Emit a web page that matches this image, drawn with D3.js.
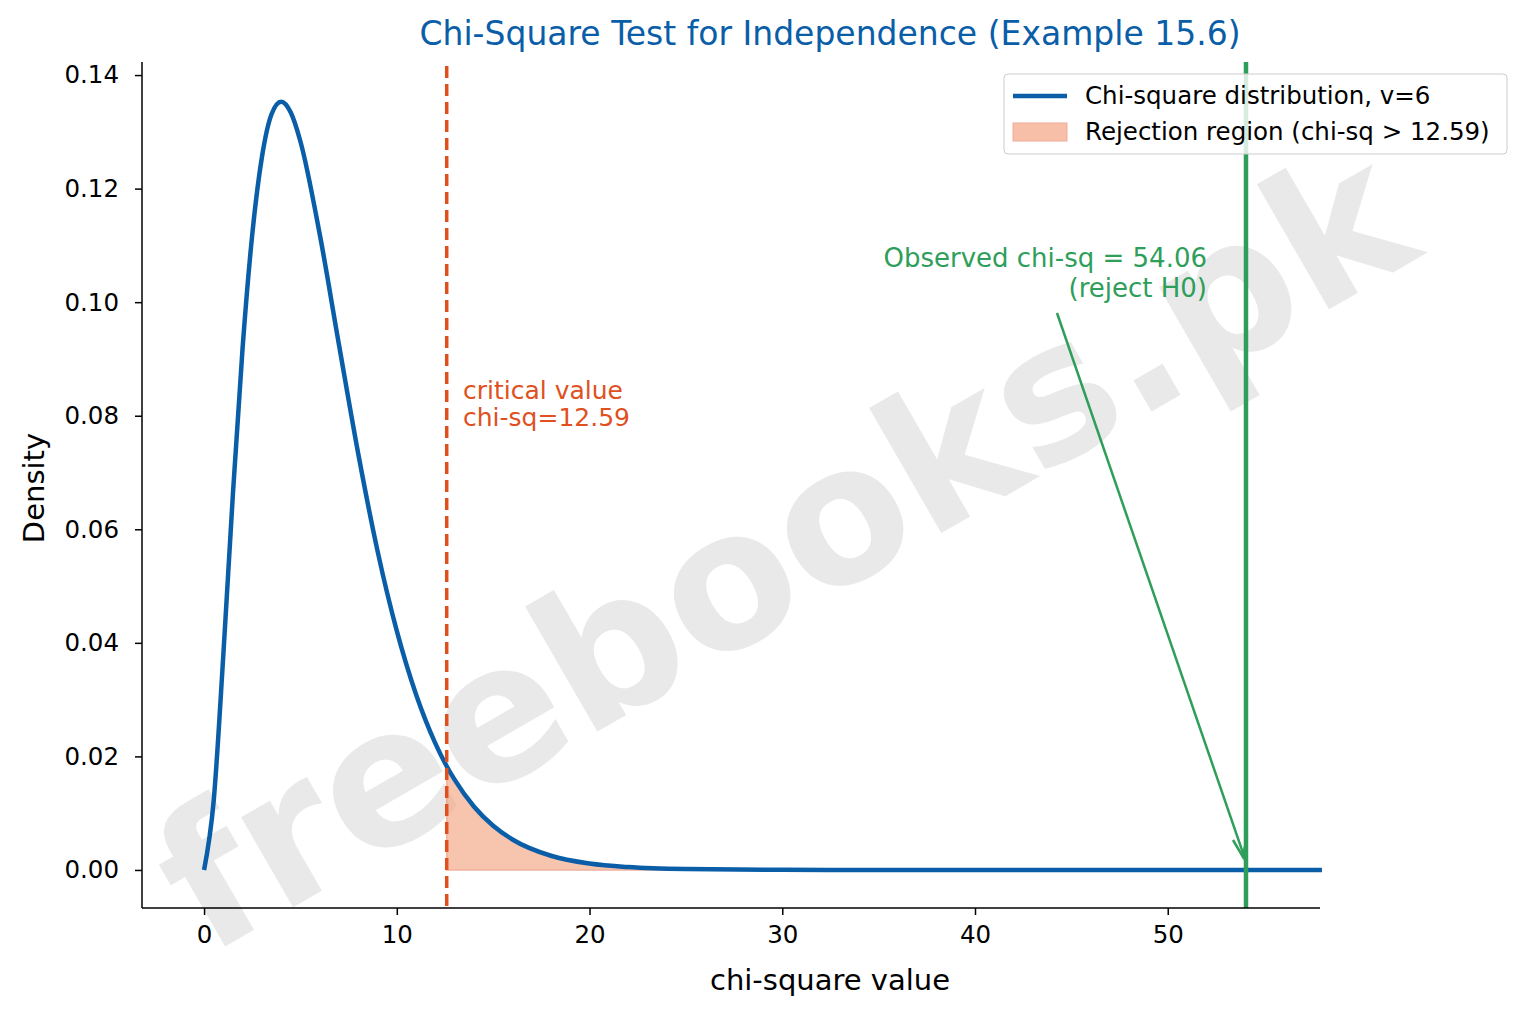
<!DOCTYPE html><html><head><meta charset="utf-8"><script src="https://cdn.jsdelivr.net/npm/d3@7"></script>
<style>body{margin:0;background:#fff}text{font-family:"DejaVu Sans",sans-serif}</style></head><body>
<svg id="c" width="1539" height="1016"></svg>
<script>
const xs=[0,0.5,1,1.5,2,2.5,3,3.5,4,4.5,5,6,7,8,9,10,11,12,12.59,13,14,15,16,18,20,22,25,30,35,40,45,50,55,58];
const ys=[0,0.0122,0.0379,0.0664,0.0920,0.1119,0.1255,0.1331,0.1353,0.1334,0.1283,0.1120,0.0925,0.0733,0.0562,0.0421,0.0309,0.0223,0.01827,0.0159,0.01117,0.00778,0.00537,0.0025,0.00113,0.0005,0.00015,0.00002,0,0,0,0,0,0];
const crit=12.59, obs=54.06;
const xTicks=[0,10,20,30,40,50], yTicks=[0,0.02,0.04,0.06,0.08,0.10,0.12,0.14];
const svg=d3.select("#c");
const x=d3.scaleLinear().domain([-3.22,57.9]).range([142,1320]);
const y=d3.scaleLinear().domain([-0.0067,0.1423]).range([908,62]);
const pts=xs.map((v,i)=>[v,ys[i]]);
svg.append("text").attr("transform","translate(790,560) rotate(-30)").attr("text-anchor","middle").attr("dominant-baseline","middle")
 .attr("font-size",190).attr("font-weight","bold").attr("fill","#e6e6e6").attr("opacity",0.85).text("freebooks.pk");
const tail=pts.filter(p=>p[0]>=crit);
svg.append("path").datum(tail).attr("fill","#f4a582").attr("opacity",0.65).attr("stroke","#e8896a").attr("stroke-width",1.5)
 .attr("d",d3.area().x(d=>x(d[0])).y0(y(0)).y1(d=>y(d[1])).curve(d3.curveMonotoneX));
svg.append("path").datum(pts).attr("fill","none").attr("stroke","#0a5ea8").attr("stroke-width",4.5)
 .attr("d",d3.line().x(d=>x(d[0])).y(d=>y(d[1])).curve(d3.curveMonotoneX));
svg.append("line").attr("x1",x(crit)).attr("x2",x(crit)).attr("y1",66).attr("y2",908).attr("stroke","#e0501e").attr("stroke-width",3.5).attr("stroke-dasharray","12,6");
svg.append("line").attr("x1",x(obs)).attr("x2",x(obs)).attr("y1",62).attr("y2",908).attr("stroke","#2e9e5a").attr("stroke-width",4.5);
svg.append("text").attr("x",463).attr("y",399).attr("font-size",25).attr("fill","#e0501e").text("critical value");
svg.append("text").attr("x",463).attr("y",426).attr("font-size",25).attr("fill","#e0501e").text("chi-sq=12.59");
svg.append("text").attr("x",1207).attr("y",267).attr("text-anchor","end").attr("font-size",26).attr("fill","#2e9e5a").text("Observed chi-sq = 54.06");
svg.append("text").attr("x",1207).attr("y",297).attr("text-anchor","end").attr("font-size",26).attr("fill","#2e9e5a").text("(reject H0)");
svg.append("line").attr("x1",1057).attr("y1",313).attr("x2",x(obs)-2).attr("y2",y(0)-14).attr("stroke","#2e9e5a").attr("stroke-width",2.5);
svg.append("path").attr("d","M1233,840 L1243,857 L1247,836").attr("fill","none").attr("stroke","#2e9e5a").attr("stroke-width",2.5);
const ax=svg.append("g").attr("transform","translate(0,908)").call(d3.axisBottom(x).tickValues(xTicks).tickFormat(d3.format("d")).tickSize(7));
const ay=svg.append("g").attr("transform","translate(142,0)").call(d3.axisLeft(y).tickValues(yTicks).tickFormat(d3.format(".2f")).tickSize(7));
[ax,ay].forEach(a=>{a.selectAll("text").attr("font-size",24.5).attr("fill","#000").style("font-family","DejaVu Sans");a.selectAll("line,path").attr("stroke","#000").attr("stroke-width",1.5);});
ax.selectAll("text").attr("dy","1.0em");
ay.selectAll("text").attr("x",-23);
ay.select(".domain").attr("d","M0,908V62");ax.select(".domain").attr("d","M142,0H1320");
svg.append("text").attr("x",830).attr("y",990).attr("text-anchor","middle").attr("font-size",29).text("chi-square value");
svg.append("text").attr("transform","translate(44,488) rotate(-90)").attr("text-anchor","middle").attr("font-size",29).text("Density");
svg.append("text").attr("x",830).attr("y",45).attr("text-anchor","middle").attr("font-size",33).attr("fill","#0a5ea8").text("Chi-Square Test for Independence (Example 15.6)");
const lg=svg.append("g");
lg.append("rect").attr("x",1004).attr("y",74).attr("width",503).attr("height",80).attr("rx",4).attr("fill","#fff").attr("fill-opacity",0.8).attr("stroke","#ccc");
lg.append("line").attr("x1",1013).attr("x2",1067).attr("y1",96).attr("y2",96).attr("stroke","#0a5ea8").attr("stroke-width",4.5);
lg.append("rect").attr("x",1013).attr("y",123).attr("width",54).attr("height",18).attr("fill","#f4a582").attr("opacity",0.7).attr("stroke","#e8896a");
lg.append("text").attr("x",1085).attr("y",104).attr("font-size",24.5).text("Chi-square distribution, v=6");
lg.append("text").attr("x",1085).attr("y",140).attr("font-size",24.5).text("Rejection region (chi-sq > 12.59)");
</script></body></html>
